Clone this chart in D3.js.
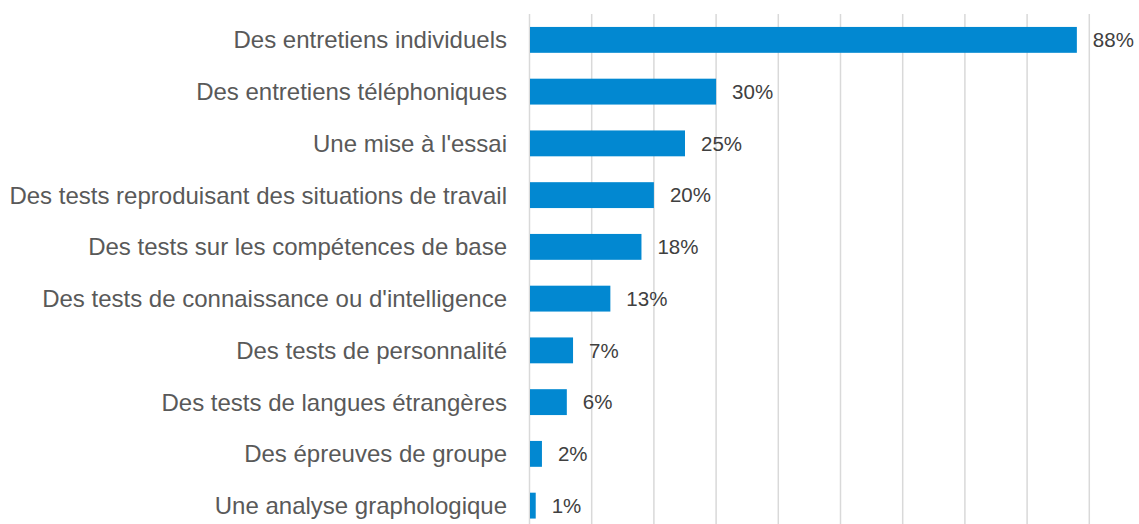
<!DOCTYPE html>
<html lang="fr">
<head>
    <meta charset="UTF-8">
    <title>Méthodes de recrutement</title>
    <script src="https://d3js.org/d3.v7.min.js"></script>
    <style>
        body { margin: 0; background: #fff; font-family: "Liberation Sans", Arial, sans-serif; }
        .cat-label { font-size: 24px; fill: #595959; text-anchor: end; }
        .val-label { font-size: 20.5px; fill: #404040; }
    </style>
</head>
<body>
    <svg width="1139" height="524"></svg>
    <script>
        const categories = [
            "Des entretiens individuels",
            "Des entretiens téléphoniques",
            "Une mise à l'essai",
            "Des tests reproduisant des situations de travail",
            "Des tests sur les compétences de base",
            "Des tests de connaissance ou d'intelligence",
            "Des tests de personnalité",
            "Des tests de langues étrangères",
            "Des épreuves de groupe",
            "Une analyse graphologique"
        ];
        const values = [88, 30, 25, 20, 18, 13, 7, 6, 2, 1];
        const gridTicks = [0, 10, 20, 30, 40, 50, 60, 70, 80, 90, 100];

        const data = categories.map((c, i) => ({ cat: c, val: values[i] }));

        const svg = d3.select("svg");

        const x = d3.scaleLinear()
            .domain([0, 100])
            .range([529.5, 1151.5]);

        const y = d3.scaleBand()
            .domain(categories)
            .range([14, 531.5])
            .paddingInner(0.5)
            .paddingOuter(0.25);

        // vertical gridlines
        svg.append("g")
            .selectAll("line")
            .data(gridTicks)
            .enter()
            .append("line")
            .attr("x1", d => x(d))
            .attr("x2", d => x(d))
            .attr("y1", 14)
            .attr("y2", 524)
            .attr("stroke", "#d9d9d9")
            .attr("stroke-width", 1.5);

        svg.selectAll(".bar")
            .data(data)
            .enter()
            .append("rect")
            .attr("class", "bar")
            .attr("x", x(0) + 0.5)
            .attr("y", d => y(d.cat))
            .attr("width", d => x(d.val) - x(0) - 0.5)
            .attr("height", y.bandwidth())
            .attr("fill", "#0288d1");

        svg.selectAll(".val-label")
            .data(data)
            .enter()
            .append("text")
            .attr("class", "val-label")
            .attr("x", d => x(d.val) + 16)
            .attr("y", d => y(d.cat) + y.bandwidth() / 2)
            .attr("dy", "0.35em")
            .text(d => `${d.val}%`);

        svg.selectAll(".cat-label")
            .data(data)
            .enter()
            .append("text")
            .attr("class", "cat-label")
            .attr("x", 507)
            .attr("y", d => y(d.cat) + y.bandwidth() / 2)
            .attr("dy", "0.35em")
            .text(d => d.cat);
    </script>
</body>
</html>
